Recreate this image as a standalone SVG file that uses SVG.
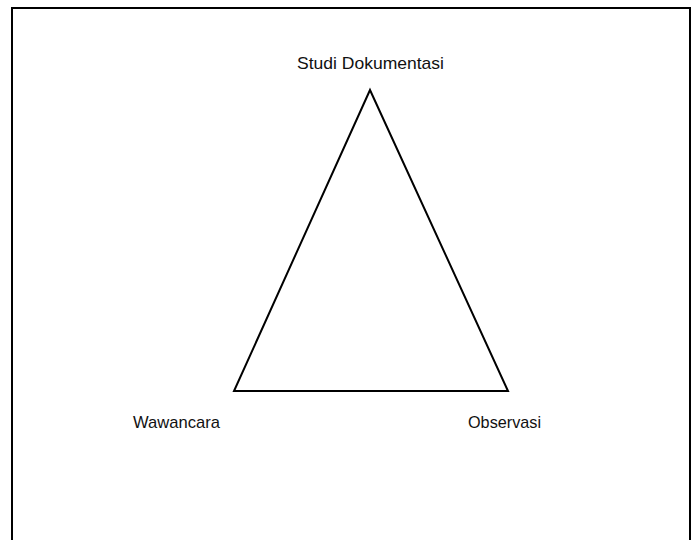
<svg xmlns="http://www.w3.org/2000/svg" width="698" height="540" viewBox="0 0 698 540">
  <style>
    .lbl { font-family: "Liberation Sans", Arial, sans-serif; font-size: 17px; fill: #111; }
    .edge { fill: none; stroke: #000; stroke-width: 2; stroke-linejoin: miter; }
  </style>
  <rect x="0" y="0" width="698" height="540" fill="#fff"/>
  <rect id="frame" x="12" y="8" width="678" height="540" fill="none" stroke="#000" stroke-width="2"/>
  <g id="connectors">
    <polygon class="edge" points="370,90 234,391 508,391"/>
  </g>
  <g id="node-studi">
    <text class="lbl" x="297" y="69" textLength="147" lengthAdjust="spacingAndGlyphs">Studi Dokumentasi</text>
  </g>
  <g id="node-wawancara">
    <text class="lbl" x="133" y="428" textLength="87" lengthAdjust="spacingAndGlyphs">Wawancara</text>
  </g>
  <g id="node-observasi">
    <text class="lbl" x="468" y="428" textLength="73" lengthAdjust="spacingAndGlyphs">Observasi</text>
  </g>
</svg>
